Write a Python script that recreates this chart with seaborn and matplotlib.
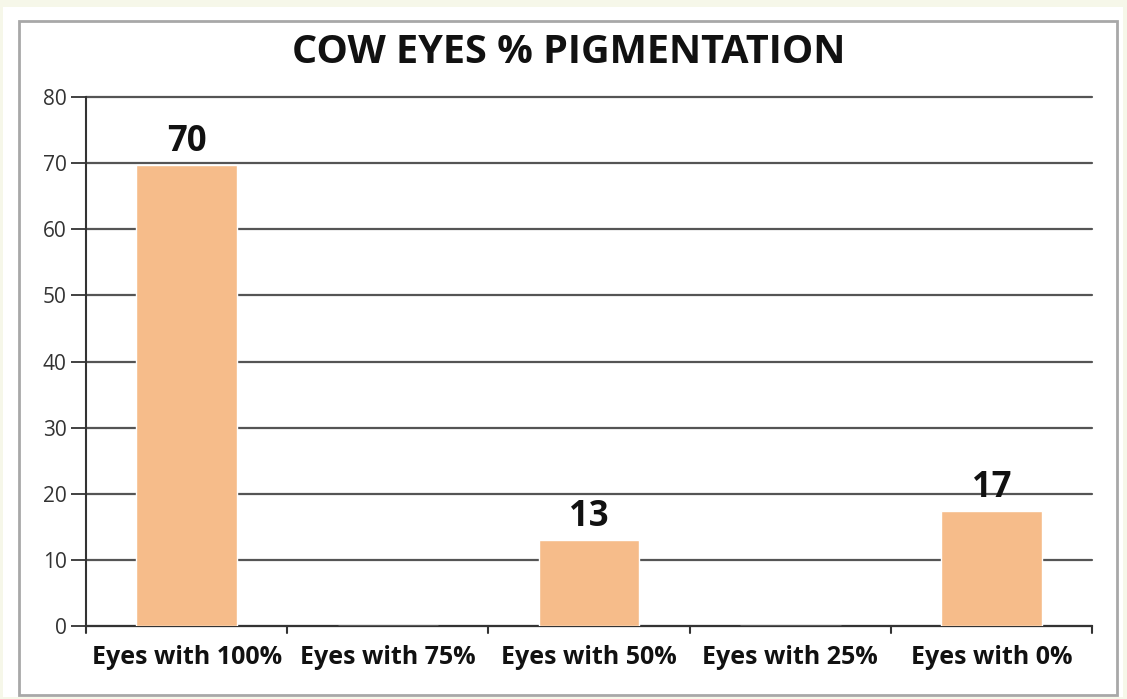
import matplotlib
matplotlib.use("Agg")
import matplotlib.pyplot as plt
import seaborn as sns
import pandas as pd
from matplotlib.patches import Rectangle

categories = ["Eyes with 100%", "Eyes with 75%", "Eyes with 50%", "Eyes with 25%", "Eyes with 0%"]
values = [69.7, 0, 13.0, 0, 17.4]
labels = ["70", "", "13", "", "17"]
yticks = [0, 10, 20, 30, 40, 50, 60, 70, 80]

sns.set_style("white")
plt.rcParams['font.family'] = ['Open Sans', 'DejaVu Sans']

W, H = 1127, 699
fig = plt.figure(figsize=(W / 100, H / 100), dpi=100)
fig.patch.set_facecolor("#F6F7E9")

# white panel and gray frame
fig.patches.append(Rectangle((3 / W, 2 / H), 1120 / W, 690 / H, transform=fig.transFigure,
                             facecolor="white", edgecolor="none", zorder=-5))
fig.patches.append(Rectangle((19 / W, 4 / H), 1098 / W, 674 / H, transform=fig.transFigure,
                             facecolor="white", edgecolor="#A8A8A8", linewidth=2, zorder=-4))

ax = fig.add_axes([86 / W, 1 - 626 / H, (1092 - 86) / W, (626 - 97) / H])
df = pd.DataFrame({"cat": categories, "val": values})
sns.barplot(data=df, x="cat", y="val", color="#F6BC8A", saturation=1, width=0.5, ax=ax, zorder=3)

ax.set_xlim(-0.5, 4.5)
ax.set_ylim(0, 80)
ax.set_yticks(yticks)
ax.set_yticklabels([str(t) for t in yticks], fontsize=15, color="#333333")
ax.set_xticks(range(len(categories)))
ax.set_xticklabels(categories, fontsize=18, fontweight="bold", color="#111111")
ax.tick_params(axis="x", length=0, pad=14)
ax.tick_params(axis="y", length=11, width=1.3, color="#333333", pad=3, left=True)

# x boundary ticks
for b in [i - 0.5 for i in range(len(categories) + 1)]:
    ax.plot([b, b], [0, -1.1], color="#333333", lw=1.5, clip_on=False, zorder=4)

ax.yaxis.grid(True, color="#555555", linewidth=1.6, zorder=0)
for gl in ax.get_ygridlines():
    gl.set_clip_on(False)
ax.set_axisbelow(True)
for s in ["top", "right"]:
    ax.spines[s].set_visible(False)
for s in ["left", "bottom"]:
    ax.spines[s].set_color("#333333")
    ax.spines[s].set_linewidth(1.5)
ax.set_xlabel("")
ax.set_ylabel("")
ax.set_facecolor("white")

for i, (v, lab) in enumerate(zip(values, labels)):
    if lab:
        ax.text(i, v + 0.8, lab, ha="center", va="bottom", fontsize=25, fontweight="bold", color="#111111")

fig.text(569 / W, 1 - 63 / H, "COW EYES % PIGMENTATION", ha="center", va="baseline",
         fontsize=28.5, fontweight="bold", color="#111111")

fig.savefig("out.png", dpi=100, facecolor=fig.get_facecolor())
